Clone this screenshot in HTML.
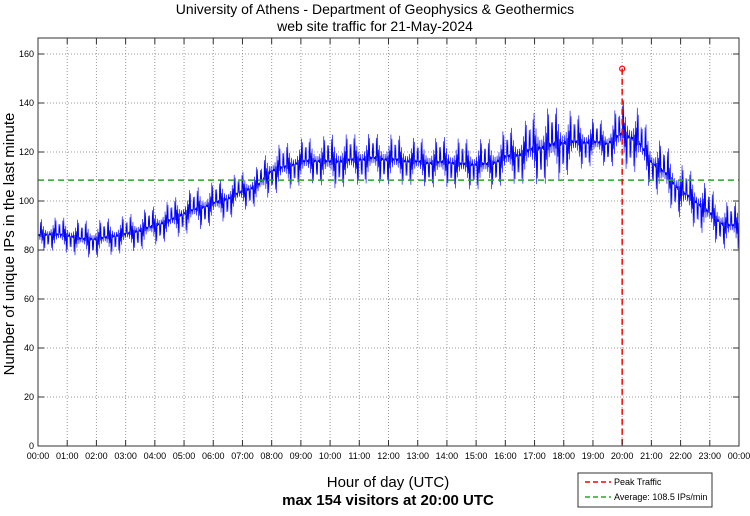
<!DOCTYPE html>
<html><head><meta charset="utf-8"><style>
body{margin:0;background:#fff;font-family:"Liberation Sans",sans-serif}
svg text{font-family:"Liberation Sans",sans-serif}
</style></head><body>
<svg id="c" width="750" height="511" xmlns="http://www.w3.org/2000/svg">
<text x="375" y="14" font-size="14" text-anchor="middle">University of Athens - Department of Geophysics &amp; Geothermics</text>
<text x="375" y="31" font-size="14" text-anchor="middle">web site traffic for 21-May-2024</text>
<g id="grid"></g><g id="series"></g><g id="axes"></g>
<text transform="translate(14,244) rotate(-90)" font-size="15" text-anchor="middle">Number of unique IPs in the last minute</text>
<text x="388" y="487" font-size="15" text-anchor="middle">Hour of day (UTC)</text>
<text x="388" y="505" font-size="15" font-weight="bold" text-anchor="middle">max 154 visitors at 20:00 UTC</text>
<g>
<rect x="578" y="473" width="134" height="34" fill="#fff" stroke="#333"/>
<line x1="585" y1="482" x2="611" y2="482" stroke="#f00" stroke-width="1.5" stroke-dasharray="5,3"/>
<text x="614" y="485" font-size="9">Peak Traffic</text>
<line x1="585" y1="497" x2="611" y2="497" stroke="#2a2" stroke-width="1.5" stroke-dasharray="5,3"/>
<text x="614" y="500" font-size="9">Average: 108.5 IPs/min</text>
</g>
</svg>
<script>
const hourLabels=["00:00","01:00","02:00","03:00","04:00","05:00","06:00","07:00","08:00","09:00","10:00","11:00","12:00","13:00","14:00","15:00","16:00","17:00","18:00","19:00","20:00","21:00","22:00","23:00","00:00"];
const yTicks=[0,20,40,60,80,100,120,140,160];
const bandLow=[78,78,77,75,75,76,77,78,80,82,84,86,88,90,94,96,100,102,104,105,102,103,104,105,104,104,104,103,103,102,102,102,104,104,103,103,106,110,112,112,110,108,102,96,90,86,82,78];
const bandHigh=[94,95,95,94,94,95,96,98,100,102,106,108,110,112,114,116,125,126,128,128,130,130,130,130,130,129,128,128,129,128,128,128,132,134,140,142,142,138,136,135,145,142,130,126,118,114,108,102];
const average=108.5;
const peakHour=20, peakValue=154;
const L=38,R=739,T=38,B=446,yMax=160,yTop=54;
const X=h=>L+(R-L)*h/24;
const Y=v=>B-(B-yTop)*v/yMax;
const NS="http://www.w3.org/2000/svg";
function mk(p,t,a){const e=document.createElementNS(NS,t);for(const k in a)e.setAttribute(k,a[k]);p.appendChild(e);return e;}
const g=document.getElementById('grid'),s=document.getElementById('series'),ax=document.getElementById('axes');
hourLabels.forEach((lb,i)=>{const x=X(i);
 if(i>0&&i<24){const l=mk(g,'line',{x1:x,y1:T,x2:x,y2:B,stroke:'#999','stroke-dasharray':'1,2'});}
 mk(ax,'line',{x1:x,y1:B,x2:x,y2:B-6,stroke:'#333'});mk(ax,'line',{x1:x,y1:T,x2:x,y2:T+6,stroke:'#333'});
 const t=mk(ax,'text',{x:x,y:B+13,'font-size':9,'text-anchor':'middle'});t.textContent=lb;
 });
yTicks.forEach(v=>{const y=Y(v);
 if(v>0){const l=mk(g,'line',{x1:L,y1:y,x2:R,y2:y,stroke:'#999','stroke-dasharray':'1,2'});}
 mk(ax,'line',{x1:L,y1:y,x2:L+6,y2:y,stroke:'#333'});mk(ax,'line',{x1:R,y1:y,x2:R-6,y2:y,stroke:'#333'});
 const t=mk(ax,'text',{x:L-4,y:y+3,'font-size':9,'text-anchor':'end'});t.textContent=v;
 });
const fr=mk(ax,'rect',{x:L,y:T,width:R-L,height:B-T,fill:'none',stroke:'#333'});

let pts=[];const n=bandLow.length;
for(let m=0;m<1440;m++){const f=m/30;const i=Math.min(n-1,Math.floor(f));const j=Math.min(n-1,i+1);const w=f-i;
 const lo=bandLow[i]*(1-w)+bandLow[j]*w, hi=bandHigh[i]*(1-w)+bandHigh[j]*w;
 const mid=(lo+hi)/2, half=(hi-lo)/2;
 const q=((m*m*13+m*29+7)%23)/22;
 const amp=Math.pow(q,1.6);
 const v=mid+(m%2?1:-1)*half*amp;
 pts.push(X(m/60).toFixed(2)+','+Y(v).toFixed(1));}
const pl=mk(s,'polyline',{points:pts.join(' '),fill:'none',stroke:'#00f','stroke-width':0.6});

const av=mk(s,'line',{x1:L,y1:Y(average),x2:R,y2:Y(average),stroke:'#2a2','stroke-width':1.5,'stroke-dasharray':'6,4'});

const pk=mk(s,'line',{x1:X(peakHour),y1:Y(peakValue),x2:X(peakHour),y2:B,stroke:'#f00','stroke-width':1.5,'stroke-dasharray':'6,4'});

const pm=mk(s,'circle',{cx:X(peakHour),cy:Y(peakValue),r:2.5,fill:'none',stroke:'#f00','stroke-width':1.2});

</script>
</body></html>
